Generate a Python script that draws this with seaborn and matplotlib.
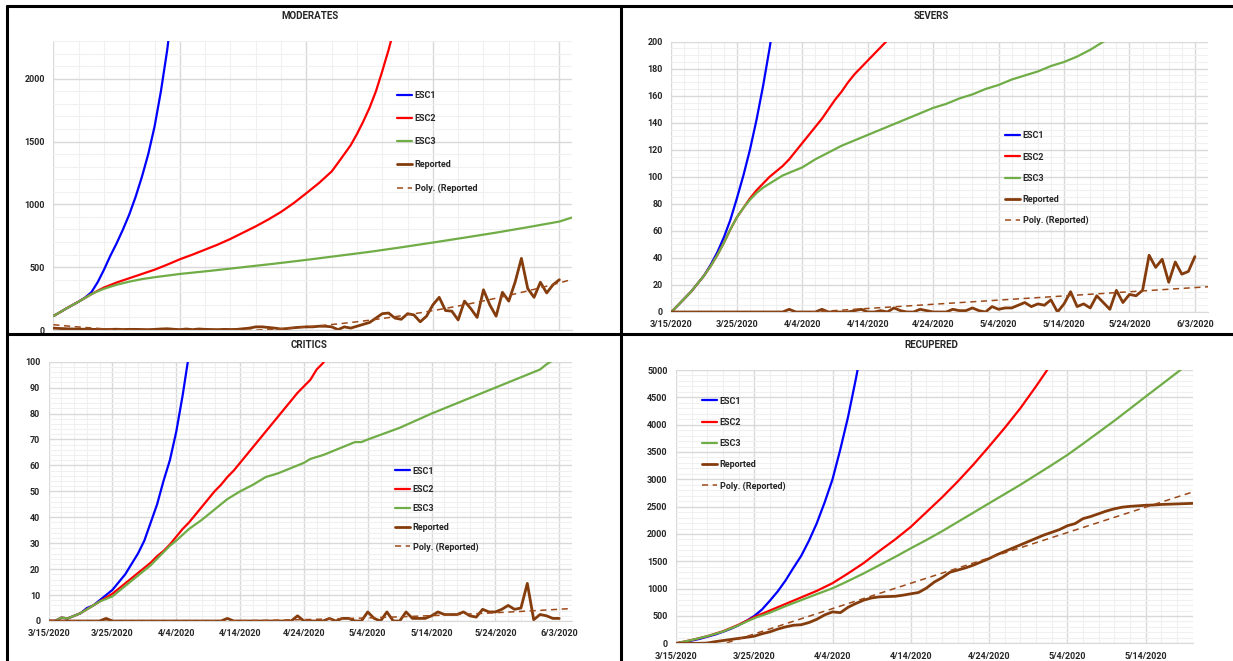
import numpy as np
import pandas as pd
import matplotlib
matplotlib.use("Agg")
import matplotlib.pyplot as plt
from matplotlib.lines import Line2D
import seaborn as sns

sns.set_style("white")
plt.rcParams["font.family"] = ["Roboto", "DejaVu Sans"]
plt.rcParams["font.weight"] = "bold"

START = pd.Timestamp("2020-03-15")

# ---------------- MODERATES ----------------
mod_esc1_days = list(range(0, 20))
mod_esc1 = [111, 140, 170, 198, 226, 258, 300, 380, 480, 590, 690, 800, 920, 1060,
            1220, 1400, 1620, 1900, 2230, 2650]
mod_esc2_days = [0, 1, 2, 3, 4, 5, 6, 7, 8, 10, 12, 14, 16, 18, 20, 22, 24, 26, 28, 30,
                 32, 34, 36, 38, 40, 42, 44, 45, 46, 47, 48, 49, 50, 51, 52, 53, 54]
mod_esc2 = [111, 140, 170, 198, 226, 255, 285, 312, 338, 378, 412, 446, 480, 520, 563,
            600, 640, 680, 725, 775, 825, 880, 940, 1010, 1089, 1170, 1262, 1330, 1400,
            1470, 1560, 1660, 1770, 1900, 2060, 2230, 2420]
mod_esc3_days = [0, 1, 2, 3, 4, 5, 6, 7, 8, 10, 12, 14, 16, 18, 20, 25, 30, 35, 40, 45,
                 50, 55, 60, 65, 70, 75, 80, 82]
mod_esc3 = [111, 140, 170, 198, 226, 255, 285, 308, 328, 360, 385, 405, 420, 433, 446,
            472, 500, 528, 558, 590, 622, 658, 696, 735, 775, 818, 863, 895]
mod_rep = [15, 12, 10, 8, 7, 6, 5, 5, 4, 5, 6, 4, 5, 5, 4, 3, 5, 8, 10, 6,
           3, 8, 3, 8, 5, 4, 3, 5, 4, 5, 10, 15, 25, 25, 20, 15, 8, 12, 18, 22,
           25, 25, 30, 30, 25, 3, 25, 15, 30, 45, 60, 95, 130, 135, 95, 85, 130, 120, 65, 110,
           200, 260, 155, 150, 80, 230, 170, 100, 320, 200, 110, 300, 230, 380, 570, 330, 260, 380, 295, 360,
           400]
mod_rep_days = list(range(len(mod_rep)))

# ---------------- SEVERS ----------------
sev_esc1_days = list(range(0, 17))
sev_esc1 = [0, 5, 10, 15, 21, 27, 35, 44, 55, 68, 84, 101, 120, 142, 167, 195, 226]
sev_esc2_days = list(range(0, 35))
sev_esc2 = [0, 5, 10, 15, 21, 27, 34, 42, 51, 61, 70, 77, 84, 90, 95, 100, 104, 108, 113, 119,
            125, 131, 137, 143, 150, 157, 163, 170, 176, 181, 186, 191, 196, 201, 206]
sev_esc3_days = [0, 1, 2, 3, 4, 5, 6, 7, 8, 9, 10, 11, 12, 13, 14, 15, 16, 17, 18, 19, 20,
                 22, 24, 26, 28, 30, 32, 34, 36, 38, 40, 42, 44, 46, 48, 50, 52, 54, 56, 58,
                 60, 62, 64, 66, 68]
sev_esc3 = [0, 5, 10, 15, 21, 27, 34, 42, 51, 61, 70, 77, 83, 88, 92, 95, 98, 101, 103, 105, 107,
            113, 118, 123, 127, 131, 135, 139, 143, 147, 151, 154, 158, 161, 165, 168, 172, 175, 178, 182,
            185, 189, 194, 200, 205]
sev_rep = [0, 0, 0, 0, 0, 0, 0, 0, 0, 0, 0, 0, 0, 0, 0, 0, 0, 0, 2, 0,
           0, 0, 0, 2, 0, 0, 0, 0, 1, 2, 0, 0, 1, 0, 3, 1, 0, 0, 2, 1,
           0, 0, 0, 2, 1, 1, 3, 1, 0, 4, 2, 3, 3, 5, 7, 4, 6, 5, 9, 0,
           6, 15, 4, 6, 3, 12, 7, 2, 16, 7, 13, 12, 16, 42, 33, 39, 22, 37, 28, 30,
           41]
sev_rep_days = list(range(len(sev_rep)))

# ---------------- CRITICS ----------------
cri_esc1_days = list(range(0, 23))
cri_esc1 = [0, 0, 1.3, 1, 2, 3, 5, 6, 8, 10, 12, 15, 18, 22, 26, 31, 38, 45, 54, 62, 73, 87, 103]
cri_esc2_days = list(range(0, 45))
cri_esc2 = [0, 0, 1.3, 1, 2, 3, 4.5, 6, 7.5, 9, 10.5, 12.5, 14.5, 16.5, 18.5, 20.5, 22.5, 25, 27, 29.5,
            32.5, 35.5, 38, 41, 44, 47, 50, 52.5, 55.5, 58, 61, 64, 67, 70, 73, 76, 79, 82, 85, 88,
            90.5, 93, 97, 99.5, 103]
cri_esc3_days = [0, 1, 2, 3, 4, 5, 6, 7, 8, 9, 10, 11, 12, 13, 14, 15, 16, 17, 18, 19, 20,
                 22, 24, 26, 28, 30, 32, 34, 36, 38, 40, 41, 43, 45, 47, 48, 49, 50, 55, 60,
                 65, 70, 75, 77, 78, 79]
cri_esc3 = [0, 0, 1.3, 1, 2, 3, 4.5, 6, 7.5, 8.5, 9.5, 11.5, 13.5, 15.5, 17.5, 19.5, 21.5, 24, 26.5, 29, 31,
            35.5, 39, 43, 47, 50, 52.5, 55.5, 57, 59, 61, 62.5, 64, 66, 68, 69, 69, 70, 74.5, 80,
            85, 90, 95, 97, 99, 100.5]
cri_rep = [0, 0, 0, 0, 0, 0, 0, 0, 0, 1, 0, 0, 0, 0, 0, 0, 0, 0, 0, 0,
           0, 0, 0, 0, 0, 0, 0, 0, 1, 0, 0, 0, 0, 0, 0, 0, 0, 0, 0, 2,
           0, 0, 0, 0, 1, 0, 1, 1, 0, 0, 3.5, 1, 0, 3.5, 0, 0, 3.5, 1, 1, 1,
           2, 3.5, 2.5, 2.5, 2.5, 3.5, 2, 1.5, 4.5, 3.5, 3.5, 4.5, 6, 4.5, 5, 14.5, 0.5, 2.5, 2, 1,
           1]
cri_rep_days = list(range(len(cri_rep)))

# ---------------- RECUPERED ----------------
rec_esc1_days = list(range(0, 25))
rec_esc1 = [0, 20, 50, 80, 120, 160, 210, 265, 330, 410, 500, 620, 780, 950, 1150, 1380, 1600,
            1880, 2200, 2580, 3000, 3550, 4150, 4850, 5600]
rec_esc2_days = list(range(0, 49, 2))
rec_esc2 = [0, 60, 130, 220, 340, 480, 600, 720, 840, 960, 1100, 1280, 1470, 1690, 1900, 2130,
            2400, 2670, 2960, 3270, 3600, 3940, 4300, 4700, 5120]
rec_esc3_days = list(range(0, 67, 2))
rec_esc3 = [0, 60, 130, 215, 330, 460, 560, 680, 790, 900, 1006, 1140, 1280, 1430, 1580, 1738,
            1890, 2050, 2220, 2390, 2561, 2730, 2900, 3080, 3260, 3445, 3650, 3860, 4070, 4290,
            4512, 4730, 4950, 5170]
rec_rep = [0, 0, 0, 0, 5, 30, 50, 70, 90, 110, 130, 175, 210, 260, 300, 330, 340, 380, 440, 520,
           575, 560, 660, 730, 790, 830, 850, 855, 860, 880, 905, 930, 1010, 1120, 1200, 1300, 1340, 1380, 1430, 1490,
           1550, 1620, 1680, 1740, 1800, 1860, 1920, 1980, 2030, 2080, 2150, 2190, 2280, 2320, 2370, 2420, 2460, 2490, 2505, 2515,
           2525, 2530, 2540, 2545, 2550, 2555, 2560]
rec_rep_days = list(range(len(rec_rep)))

# Tick labels along the date axes
date_ticks = pd.date_range("2020-03-15", "2020-06-03", freq="10D")
date_labels = [f"{d.month}/{d.day}/{d.year}" for d in date_ticks]

C_ESC1, C_ESC2, C_ESC3 = "#0000FF", "#FF0000", "#70AD47"
C_REP, C_POLY = "#843C0C", "#9C4A1A"

W, H = 1233, 661
fig = plt.figure(figsize=(W / 100, H / 100), dpi=100)
fig.patch.set_facecolor("white")


def to_dates(days):
    return START + pd.to_timedelta(np.asarray(days, dtype=float), unit="D")


def panel(box, title, title_xy, esc, rep_days, rep, trend_order, ylim, ystep, yminor, xend,
          xstep, xminor, leg_xy, leg_ls, xlabels=True, poly_label="Poly. (Reported)"):
    l, r, t, b = box
    ax = fig.add_axes([l / W, 1 - b / H, (r - l) / W, (b - t) / H])
    ax.set_axisbelow(True)
    names = ["ESC1", "ESC2", "ESC3"]
    colors = [C_ESC1, C_ESC2, C_ESC3]
    for (d, v), name, c in zip(esc, names, colors):
        sns.lineplot(x=to_dates(d), y=v, ax=ax, color=c, lw=1.6, label=name,
                     estimator=None, sort=False)
    sns.lineplot(x=to_dates(rep_days), y=rep, ax=ax, color=C_REP, lw=2.0, label="Reported",
                 estimator=None, sort=False)
    # polynomial trendline fitted to the reported series
    coef = np.polyfit(rep_days, rep, trend_order)
    tdays = np.arange(0, xend + 1)
    sns.lineplot(x=to_dates(tdays), y=np.polyval(coef, tdays), ax=ax, color=C_POLY, lw=1.1,
                 linestyle=(0, (4, 3)), label=poly_label, estimator=None, sort=False)

    ax.set_ylim(*ylim)
    ax.set_xlim(START, START + pd.Timedelta(days=xend))
    yt = np.arange(0, ylim[1] + 1e-9, ystep)
    ax.set_yticks(yt)
    ax.set_yticks(np.arange(0, ylim[1] + 1e-9, yminor), minor=True)
    ax.set_yticklabels([f"{int(v)}" for v in yt])
    xt = pd.date_range(START, START + pd.Timedelta(days=xend), freq=f"{xstep}D")
    ax.set_xticks(xt)
    ax.set_xticks(pd.date_range(START, START + pd.Timedelta(days=xend), freq=f"{xminor}D"),
                  minor=True)
    if xlabels:
        ax.set_xticklabels(date_labels[:len(xt)])
    else:
        ax.set_xticklabels([])
    ax.grid(which="major", color="#D9D9D9", lw=1.0)
    ax.grid(which="minor", color="#F0F0F0", lw=0.8)
    ax.tick_params(which="both", length=0, pad=6, labelsize=6.5)
    for lab in ax.get_xticklabels() + ax.get_yticklabels():
        lab.set_fontweight("bold")
    for s in ["top", "right", "left"]:
        ax.spines[s].set_visible(False)
    ax.spines["bottom"].set_color("#D9D9D9")
    ax.set_xlabel("")
    ax.set_ylabel("")

    h, lab = ax.get_legend_handles_labels()
    ax.legend(h, lab, loc="upper left", bbox_to_anchor=(leg_xy[0] / W, 1 - leg_xy[1] / H),
              bbox_transform=fig.transFigure, frameon=False,
              prop={"size": 6.5, "weight": "bold"},
              handlelength=1.7, handletextpad=0.25, labelspacing=leg_ls,
              borderpad=0, borderaxespad=0)
    fig.text(title_xy[0] / W, 1 - title_xy[1] / H, title, ha="center", va="center",
             fontsize=7, fontweight="bold")
    return ax


panel((53.4, 572, 41, 330), "MODERATES", (310, 16),
      [(mod_esc1_days, mod_esc1), (mod_esc2_days, mod_esc2), (mod_esc3_days, mod_esc3)],
      mod_rep_days, mod_rep, 2, (0, 2300), 500, 100, 82, 20, 4,
      (397, 91), 1.56, xlabels=False, poly_label="Poly. (Reported")

panel((671.4, 1208, 41.7, 312), "SEVERS", (931.5, 16),
      [(sev_esc1_days, sev_esc1), (sev_esc2_days, sev_esc2), (sev_esc3_days, sev_esc3)],
      sev_rep_days, sev_rep, 1, (0, 200), 20, 5, 82, 10, 2,
      (1005, 131.5), 1.34)

panel((48.6, 572, 361.7, 621), "CRITICS", (309.5, 345),
      [(cri_esc1_days, cri_esc1), (cri_esc2_days, cri_esc2), (cri_esc3_days, cri_esc3)],
      cri_rep_days, cri_rep, 2, (0, 100), 10, 2, 82, 10, 2,
      (395, 466.5), 1.1)

panel((676, 1192.5, 370, 643.3), "RECUPERED", (931.5, 345),
      [(rec_esc1_days, rec_esc1), (rec_esc2_days, rec_esc2), (rec_esc3_days, rec_esc3)],
      rec_rep_days, rec_rep, 1, (0, 5000), 500, 100, 66, 10, 2,
      (702, 396.5), 1.35)

# Panel frame lines
for x1, y1, x2, y2 in [(7, 6, W, 6), (7, 6, 7, H), (621, 6, 621, H), (7, 334, W, 334)]:
    fig.add_artist(Line2D([x1 / W, x2 / W], [1 - y1 / H, 1 - y2 / H], color="black",
                          lw=2.2, transform=fig.transFigure))

fig.savefig("out.png", dpi=100, facecolor="white")
